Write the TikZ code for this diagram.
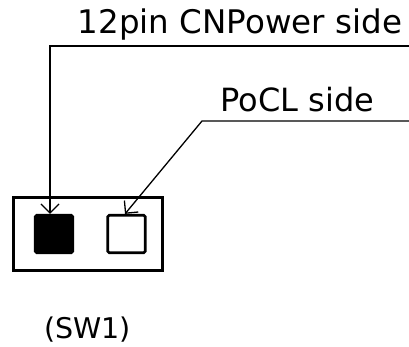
\documentclass[tikz,border=0pt]{standalone}
\usepackage{fontspec}
\setmainfont{DejaVu Sans}
\usetikzlibrary{arrows.meta}
\def\thinw{1.3pt}
\def\boxw{3pt}
\def\keyw{2.7pt}
\def\tipc{{Straight Barb[length=9pt,width=18pt]}}
\tikzset{
  lead/.style={draw, line width=\thinw, -\tipc},
  swkey/.style={draw, line width=\keyw, rounded corners=1.5pt, minimum size=37.5pt, inner sep=0pt},
  lbl/.style={anchor=base, inner sep=0pt}
}

\begin{document}
\begin{tikzpicture} [x=1pt, y=-1pt]
\useasboundingbox (0,0) rectangle (409,347);
\draw [line width=\boxw] (13.5,197.5) rectangle (162.5,270.5);
\node [swkey, fill=black] (onkey) at (54,234) {};
\node [swkey, fill=white] (offkey) at (126.5,234) {};
\node [lbl, font=\fontsize{32.5}{36}\selectfont] (cnlbl) at (240,34) {12pin CNPower side};
\node [lbl, font=\fontsize{32}{36}\selectfont] (pocllbl) at (297.5,112) {PoCL side};
\node [lbl, font=\fontsize{28.5}{32}\selectfont] (swlbl) at (87.5,338) {(SW1)};
\coordinate (cnend) at (409,46);
\coordinate (cnbend) at (50,46);
\coordinate (pocend) at (409,121);
\coordinate (pocbend) at (202,121);
\draw [lead] (cnend) -- (cnbend) -- (cnbend |- onkey.north);
\draw [lead] (pocend) -- (pocbend) -- ([xshift=-1.5pt]offkey.north);
\end{tikzpicture}
\end{document}
